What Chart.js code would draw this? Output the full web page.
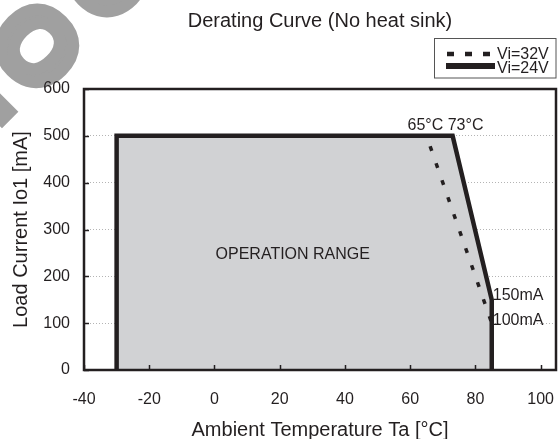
<!DOCTYPE html>
<html>
<head>
<meta charset="utf-8">
<script src="https://cdn.jsdelivr.net/npm/chart.js@4.4.0/dist/chart.umd.min.js"></script>
<style>
  html, body { margin: 0; padding: 0; background: #fff; }
  canvas { display: block; }
</style>
</head>
<body>
<canvas id="derating" width="558" height="439"></canvas>
<script>
'use strict';

// data
var tempsVi24 = [-30, -30, 73, 85, 85];
var currentVi24 = [0, 500, 500, 150, 0];
var tempsVi32 = [65, 85];
var currentVi32 = [500, 100];
var seriesLabels = ['Vi=32V', 'Vi=24V'];
var xTicks = [-40, -20, 0, 20, 40, 60, 80, 100];
var yTicks = [0, 100, 200, 300, 400, 500, 600];
var cornerText = '65°C 73°C';
var currentText = ['150mA', '100mA'];

var ink = '#231f20';
var FONT = '"Liberation Sans", Arial, sans-serif';

var toPoints = function(xs, ys) {
  var pts = [];
  for (var i = 0; i < xs.length; i++) {
    pts.push({x: xs[i], y: ys[i]});
  }
  return pts;
};

var keepTicks = function(list) {
  return function(scale) {
    scale.ticks = list.map(function(v) { return {value: v}; });
  };
};

// white page and the grey diagonal watermark letters in the corner
var background = {
  id: 'background',
  beforeDraw: function(chart) {
    var c = chart.ctx;
    c.save();
    c.fillStyle = '#fff';
    c.fillRect(0, 0, chart.width, chart.height);
    c.beginPath();
    c.rect(0, 0, chart.width, 86);
    c.rect(0, 86, 45, 60);
    c.clip();
    c.translate(38, 45);
    c.rotate(Math.PI / 4);
    c.fillStyle = '#a0a0a0';
    c.strokeStyle = '#a0a0a0';
    c.lineWidth = 12;
    c.lineJoin = 'miter';
    c.font = 'bold 100px ' + FONT;
    c.textAlign = 'center';
    c.textBaseline = 'alphabetic';
    [['O', -100], ['O', 0], ['E', 100]].forEach(function(l) {
      c.fillText(l[0], 0, l[1] + 36);
      c.strokeText(l[0], 0, l[1] + 36);
    });
    c.restore();
  }
};

var decorations = {
  id: 'decorations',
  afterDatasetsDraw: function(chart) {
    var c = chart.ctx;
    var a = chart.chartArea;
    var xs = chart.scales.x;
    var ys = chart.scales.y;
    c.save();

    // inward tick marks
    c.strokeStyle = ink;
    c.lineWidth = 1.5;
    c.beginPath();
    xTicks.forEach(function(v) {
      var px = Math.round(xs.getPixelForValue(v)) + 0.5;
      c.moveTo(px, a.bottom);
      c.lineTo(px, a.bottom - 5);
    });
    yTicks.forEach(function(v) {
      var py = Math.round(ys.getPixelForValue(v)) + 0.5;
      c.moveTo(a.left, py);
      c.lineTo(a.left + 5, py);
    });
    c.stroke();

    // plot frame
    c.lineWidth = 2.5;
    c.strokeRect(a.left, a.top, a.right - a.left, a.bottom - a.top);

    // text in the plot
    c.fillStyle = ink;
    c.font = '16px ' + FONT;
    c.textAlign = 'left';
    c.textBaseline = 'alphabetic';
    c.fillText(cornerText, xs.getPixelForValue(65) - 19, ys.getPixelForValue(500) - 6);
    c.fillText(currentText[0], xs.getPixelForValue(85) + 1, ys.getPixelForValue(150));
    c.fillText(currentText[1], xs.getPixelForValue(85) + 1, ys.getPixelForValue(100) + 2);
    c.textAlign = 'center';
    c.fillText('OPERATION RANGE', xs.getPixelForValue(24), ys.getPixelForValue(237));

    // title
    c.font = '20px ' + FONT;
    c.fillText('Derating Curve (No heat sink)', (a.left + a.right) / 2, 27);

    // legend box
    c.lineWidth = 1;
    c.strokeStyle = '#555';
    c.strokeRect(434.5, 38.5, 121.5, 39.5);
    var ds = chart.data.datasets;
    c.strokeStyle = ink;
    c.lineWidth = 4.5;
    c.setLineDash([7, 11]);
    c.beginPath();
    c.moveTo(447, 54);
    c.lineTo(492, 54);
    c.stroke();
    c.setLineDash([]);
    c.lineWidth = 6;
    c.beginPath();
    c.moveTo(446, 66);
    c.lineTo(495, 66);
    c.stroke();
    c.font = '16px ' + FONT;
    c.textAlign = 'left';
    c.fillText(ds[0].label, 497, 59);
    c.fillText(ds[1].label, 497, 73);

    c.restore();
  }
};

var ctx = document.getElementById('derating').getContext('2d');

var chartData = {
  datasets: [{
    label: seriesLabels[0],
    data: toPoints(tempsVi32, currentVi32),
    showLine: true,
    borderColor: ink,
    borderWidth: 3.5,
    borderDash: [5, 13],
    borderDashOffset: 7,
    pointRadius: 0,
    fill: false,
  }, {
    label: seriesLabels[1],
    data: toPoints(tempsVi24, currentVi24),
    showLine: true,
    borderColor: ink,
    borderWidth: 4.5,
    borderJoinStyle: 'miter',
    backgroundColor: '#d1d2d4',
    pointRadius: 0,
    fill: 'origin',
  }],
};

var chartOptions = {
  responsive: false,
  animation: false,
  layout: {
    padding: {top: 89, right: 2, bottom: 0, left: 0},
  },
  plugins: {
    legend: {display: false},
    tooltip: {enabled: false},
  },
  scales: {
    x: {
      type: 'linear',
      min: -40,
      max: 104.7,
      afterBuildTicks: keepTicks(xTicks),
      afterFit: function(scale) {
        scale.height = 69;
        scale.paddingLeft = 0;
        scale.paddingRight = 0;
      },
      grid: {display: false, drawTicks: false},
      border: {display: false},
      ticks: {
        color: ink,
        padding: 20,
        font: {family: FONT, size: 16},
      },
      title: {
        display: true,
        text: 'Ambient Temperature Ta [°C]',
        color: ink,
        padding: {top: 0, bottom: 0},
        font: {family: FONT, size: 20, lineHeight: 0.9},
      },
    },
    y: {
      min: 0,
      max: 600,
      afterBuildTicks: keepTicks(yTicks),
      afterFit: function(scale) {
        scale.width = 84;
        scale.paddingTop = 0;
        scale.paddingBottom = 0;
      },
      grid: {color: '#b4b4b4', lineWidth: 1, drawTicks: false},
      border: {display: false, dash: [1, 2]},
      ticks: {
        color: ink,
        padding: 14,
        font: {family: FONT, size: 16},
      },
      title: {
        display: true,
        text: 'Load Current Io1 [mA]',
        color: ink,
        padding: {top: 9.5, bottom: 0},
        font: {family: FONT, size: 20},
      },
    },
  },
};

var derating = new Chart(ctx, {
  type: 'scatter',
  data: chartData,
  options: chartOptions,
  plugins: [background, decorations],
});
</script>
</body>
</html>
